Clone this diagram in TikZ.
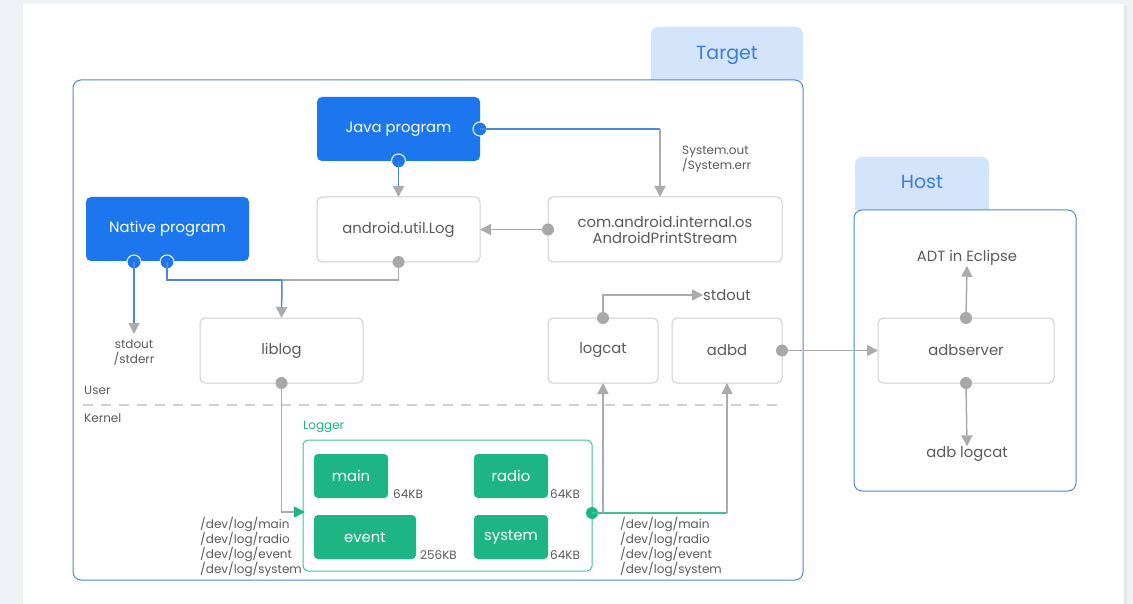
\documentclass[tikz,border=0pt]{standalone}
\usepackage{fontspec}
\setmainfont{Poppins}
\usetikzlibrary{arrows.meta}
\definecolor{bg}{HTML}{EEF1F5}
\definecolor{jblue}{HTML}{1C77EE}
\definecolor{frameblue}{HTML}{4A88DA}
\definecolor{tabblue}{HTML}{D4E4FB}
\definecolor{tabtext}{HTML}{3A7DE0}
\definecolor{boxgray}{HTML}{CFCFCF}
\definecolor{txtgray}{HTML}{5A5A5A}
\definecolor{linegray}{HTML}{ABABAB}
\definecolor{dotgray}{HTML}{A8A8A8}
\definecolor{lgreen}{HTML}{1DB584}
\definecolor{lgreenline}{HTML}{3CC497}
\newcommand{\fsA}{\fontsize{14.8}{17}\selectfont}
\newcommand{\fsB}{\fontsize{12}{15}\selectfont}
\newcommand{\fsT}{\fontsize{19}{22}\selectfont}
\tikzset{
  blueb/.style={rectangle, rounded corners=5pt, fill=jblue, text=white, font=\fsA, minimum width=163pt, minimum height=64pt, inner sep=0pt, outer sep=0pt},
  grayb/.style={rectangle, rounded corners=5pt, draw=boxgray, line width=1pt, text=txtgray, font=\fsA, inner sep=0pt, outer sep=0pt, align=center},
  greenb/.style={rectangle, rounded corners=4pt, fill=lgreen, text=white, font=\fsA, minimum height=44pt, inner sep=0pt, outer sep=0pt},
  lbl/.style={text=txtgray, font=\fsB, inner sep=0pt, align=left},
  mlbl/.style={text=txtgray, font=\fsA, inner sep=0pt},
  gdot/.style={circle, fill=dotgray, minimum size=12pt, inner sep=0pt, outer sep=0pt},
  bdot/.style={circle, fill=jblue, draw=white, line width=1pt, minimum size=14pt, inner sep=0pt, outer sep=0pt},
  grdot/.style={circle, fill=lgreen, minimum size=12pt, inner sep=0pt, outer sep=0pt},
  conn/.style={draw=linegray, line width=1.5pt},
  bconn/.style={draw=frameblue, line width=1.5pt},
  grconn/.style={draw=lgreenline, line width=1.5pt},
  garr/.style={-{Triangle[length=11pt,width=11pt,fill=linegray,color=linegray]}},
  grarr/.style={-{Triangle[length=11pt,width=11pt,fill=lgreen,color=lgreen]}},
}
\begin{document}
\begin{tikzpicture}[x=1pt,y=-1pt]
\useasboundingbox (0,0) rectangle (1133,604);
\fill[bg] (0,0) rectangle (1133,604);
\fill[black!10] (25,6) rectangle (1127,604);
\fill[white] (23,4) rectangle (1124,604);

% Target frame and tab
\fill[tabblue] (651,80) [rounded corners=7pt] -- (651,27) -- (803,27) [sharp corners] -- (803,80) -- cycle;
\node[text=tabtext, font=\fsT] (ttarget) at (727,55.5) {Target};
\draw[frameblue, line width=1pt, rounded corners=8pt] (73,80) rectangle (803,580);

% Host frame and tab
\fill[tabblue] (855,210) [rounded corners=7pt] -- (855,157) -- (989,157) [sharp corners] -- (989,210) -- cycle;
\node[text=tabtext, font=\fsT] (thost) at (922,182) {Host};
\draw[frameblue, line width=1pt, rounded corners=8pt] (854,210) rectangle (1076,491);

% user/kernel separator
\draw[boxgray, line width=1.5pt, dash pattern=on 10pt off 8pt] (83,405) -- (783,405);
\node[lbl, anchor=west] (user) at (84,390) {User};
\node[lbl, anchor=west] (kernel) at (84,418) {Kernel};

% main boxes
\node[blueb] (java) at (398.5,129) {\raisebox{-1.5pt}{Java program}};
\node[blueb] (native) at (167.5,229) {\raisebox{-1.5pt}{Native program}};
\node[grayb, minimum width=163pt, minimum height=65pt] (log) at (398.5,229.5) {\raisebox{-1.5pt}{android.util.Log}};
\node[grayb, minimum width=234pt, minimum height=65pt] (aps) at (665,229.5) {com.android.internal.os\\[-1pt]AndroidPrintStream};
\node[grayb, minimum width=163pt, minimum height=65pt] (liblog) at (281.5,350.5) {\raisebox{-1.5pt}{liblog}};
\node[grayb, minimum width=110pt, minimum height=65pt] (logcat) at (603,350.5) {\raisebox{-1.5pt}{logcat}};
\node[grayb, minimum width=110pt, minimum height=65pt] (adbd) at (727,350.5) {\raisebox{-1.5pt}{adbd}};
\node[grayb, minimum width=176pt, minimum height=65pt] (adbserver) at (966,350.5) {\raisebox{-1.5pt}{adbserver}};

% host labels
\node[mlbl] (adt) at (967,258) {ADT in Eclipse};
\node[mlbl] (adblogcat) at (967,454) {adb logcat};
\node[mlbl, anchor=west] (stdout) at (703,295) {stdout};
\node[lbl, align=center] (stderr) at (134,353) {stdout\\/stderr};
\node[lbl, anchor=west] (sysout) at (682,159) {System.out\\/System.err};

% Logger
\node[text=lgreen, font=\fsB, anchor=west, inner sep=0pt] (loggerlbl) at (303,427) {Logger};
\draw[lgreenline, line width=1pt, rounded corners=5pt] (303,440) rectangle (592,571);
\node[greenb, minimum width=74pt] (main) at (351,476) {\raisebox{-1.5pt}{main}};
\node[greenb, minimum width=74pt] (radio) at (511,476) {\raisebox{-1.5pt}{radio}};
\node[greenb, minimum width=102pt] (event) at (365,537) {\raisebox{-1.5pt}{event}};
\node[greenb, minimum width=74pt] (system) at (511,537) {\raisebox{-1.5pt}{system}};
\node[lbl, anchor=south west] (kb1) at (393,499) {64KB};
\node[lbl, anchor=south west] (kb2) at (550,499) {64KB};
\node[lbl, anchor=south west] (kb3) at (420,560) {256KB};
\node[lbl, anchor=south west] (kb4) at (550,560) {64KB};
\node[lbl, anchor=west] (devl) at (200,546.5) {/dev/log/main\\/dev/log/radio\\/dev/log/event\\/dev/log/system};
\node[lbl, anchor=west] (devr) at (620,546.5) {/dev/log/main\\/dev/log/radio\\/dev/log/event\\/dev/log/system};
\coordinate (loggerin) at (305,512);

% dots
\node[bdot] (jd) at (java.south) {};
\node[bdot] (jr) at (java.east) {};
\node[bdot] (nd1) at (134,262) {};
\node[bdot] (nd2) at (167,262) {};
\node[gdot] (ld) at (log.south) {};
\node[gdot] (apsd) at (aps.west) {};
\node[gdot] (libd) at (liblog.south) {};
\node[gdot] (lcd) at (logcat.north) {};
\node[gdot] (adbdd) at (adbd.east) {};
\node[gdot] (asu) at (adbserver.north) {};
\node[gdot] (asd) at (adbserver.south) {};
\node[grdot] (grd) at (592,513) {};

% connectors
\draw[bconn, garr] (jd.center) -- (log.north);
\draw[bconn] (jr.center) -- (660,129);
\draw[conn, garr] (660,129) -- (aps.north -| 660,0);
\draw[conn, garr] (apsd.center) -- (log.east);
\draw[bconn, garr] (nd1.center) -- (134,334);
\draw[bconn] (nd2.center) |- (282,280);
\draw[conn] (ld.center) |- (282,280);
\draw[bconn, garr] (282,280) -- (liblog.north);
\draw[conn, grarr] (libd.center) |- (loggerin);
\draw[conn, garr] (lcd.center) |- (stdout.west);
\draw[conn, garr] (adbdd.center) -- (adbserver.west);
\draw[conn, garr] (asu.center) -- (adt.south);
\draw[conn, garr] (asd.center) -- (adblogcat.north);
\draw[grconn] (grd.center) -- (727,513);
\draw[conn, garr] (603,513) -- (logcat.south);
\draw[conn, garr] (727,513) -- (adbd.south);
\end{tikzpicture}
\end{document}
